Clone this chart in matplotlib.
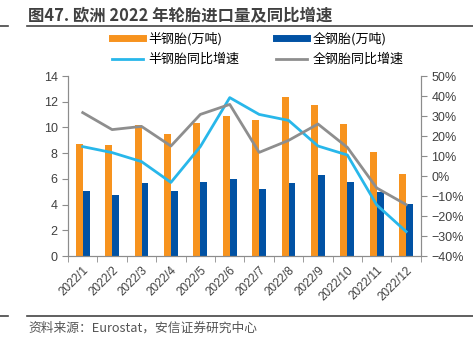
import numpy as np
import matplotlib
matplotlib.use("Agg")
import matplotlib.pyplot as plt
from matplotlib.lines import Line2D

plt.rcParams['font.family'] = ['Liberation Sans', 'Noto Sans CJK SC', 'DejaVu Sans']
plt.rcParams['axes.unicode_minus'] = True

months = ['2022/1', '2022/2', '2022/3', '2022/4', '2022/5', '2022/6',
          '2022/7', '2022/8', '2022/9', '2022/10', '2022/11', '2022/12']
semi_steel = [8.7, 8.65, 10.2, 9.5, 10.35, 10.9, 10.6, 12.35, 11.75, 10.25, 8.1, 6.4]
all_steel = [5.03, 4.72, 5.7, 5.03, 5.75, 6.0, 5.2, 5.7, 6.32, 5.75, 5.0, 4.07]
semi_yoy = [14.7, 11.7, 7.2, -3.2, 14.7, 39.2, 30.8, 27.8, 15.0, 10.5, -14.5, -27.8]
all_yoy = [31.7, 23.2, 24.8, 15.0, 30.8, 35.8, 11.8, 17.8, 26.0, 14.3, -6.0, -14.3]

orange = '#F7931E'
blue = '#0152A4'
cyan = '#28B7EA'
gray = '#8E8E8E'
axis_col = '#8C8C8C'

fig = plt.figure(figsize=(4.73, 3.38), dpi=100)
ax = fig.add_axes([0.1438, 0.2426, 0.746, 0.5325])
ax2 = ax.twinx()

x = np.arange(len(months))
w = 0.235
ax.bar(x - w / 2, semi_steel, w, color=orange, zorder=2)
ax.bar(x + w / 2, all_steel, w, color=blue, zorder=2)
ax2.plot(x, semi_yoy, color=cyan, lw=2, zorder=3)
ax2.plot(x, all_yoy, color=gray, lw=2, zorder=3)

ax.set_xlim(-0.5, len(months) - 0.5)
ax.set_ylim(0, 14)
ax.set_yticks(range(0, 15, 2))
ax2.set_ylim(-40, 50)
ax2.set_yticks(range(-40, 51, 10))
ax2.set_yticklabels([f'{v}%'.replace('-', '\u2212') for v in range(-40, 51, 10)])

ax.set_xticks(x)
ax.set_xticklabels(months, rotation=45, ha='right', rotation_mode='anchor')
ax.set_xticks(np.arange(-0.5, len(months), 1), minor=True)
ax.tick_params(axis='x', which='major', length=0, pad=6, labelsize=8.5, colors='#404040')
ax.tick_params(axis='x', which='minor', length=4, color=axis_col)
ax.tick_params(axis='y', length=4, color=axis_col, labelsize=9, labelcolor='#404040')
ax2.tick_params(axis='y', length=4, color=axis_col, labelsize=9, labelcolor='#404040')

for a in (ax, ax2):
    a.spines['top'].set_visible(False)
    for s in ('left', 'right', 'bottom'):
        a.spines[s].set_color(axis_col)
        a.spines[s].set_linewidth(0.8)

handles = [Line2D([], [], color=orange, lw=5), Line2D([], [], color=cyan, lw=2),
           Line2D([], [], color=blue, lw=5), Line2D([], [], color=gray, lw=2)]
labels = ['半钢胎(万吨)', '半钢胎同比增速', '全钢胎(万吨)', '全钢胎同比增速']
fig.legend(handles, labels, ncol=2, loc='center', bbox_to_anchor=(0.545, 0.855),
           frameon=False, handlelength=2.4, handletextpad=0.4, columnspacing=2.8,
           labelspacing=0.6, prop={'family': ['Noto Sans CJK SC'], 'size': 9.4})

fig.text(0.059, 0.955, '图47. 欧洲 2022 年轮胎进口量及同比增速', fontsize=11.8,
         fontweight='bold', color='#404040', va='center',
         family=['Noto Sans CJK SC', 'DejaVu Sans'])
fig.text(0.059, 0.03, '资料来源：Eurostat，安信证券研究中心', fontsize=9.2,
         style='italic', color='#555555', va='center',
         family=['Noto Sans CJK SC', 'DejaVu Sans'])

for yy in (1 - 26 / 338, 1 - 316 / 338):
    fig.add_artist(Line2D([0, 0.017], [yy, yy], color='#444444', lw=1.2))
    fig.add_artist(Line2D([0.057, 1], [yy, yy], color='#444444', lw=1.2))

fig.savefig('out.png', dpi=100)
